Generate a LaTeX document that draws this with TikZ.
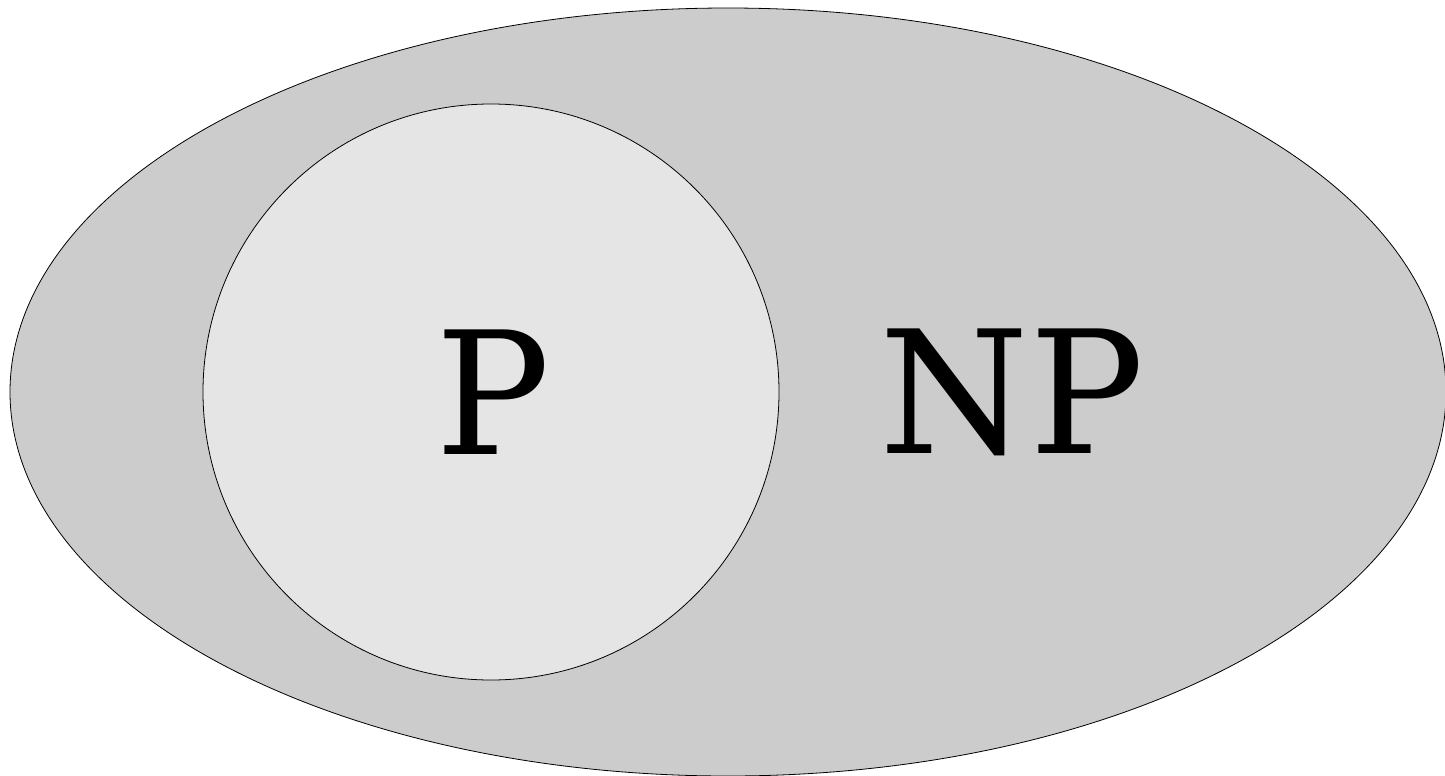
\documentclass[tikz,border=0pt]{standalone}
\usepackage{fontspec}
\setmainfont{DejaVu Serif}
\begin{document}
\begin{tikzpicture}[x=1pt,y=-1pt,
  setshape/.style={draw=black,line width=0.8pt},
  biglabel/.style={font=\fontsize{171}{171}\selectfont,inner sep=0pt}]
\useasboundingbox (0,0) rectangle (1445,776);
\fill[white] (0,0) rectangle (1445,776);
\draw[setshape,fill={rgb,255:red,204;green,204;blue,204}] (728,392) ellipse [x radius=718, y radius=384];
\draw[setshape,fill={rgb,255:red,229;green,229;blue,229}] (491,392) circle [radius=288];
\node[biglabel] (p) at (493,392) {P};
\node[biglabel] (np) at (1012,392) {NP};
\end{tikzpicture}
\end{document}
